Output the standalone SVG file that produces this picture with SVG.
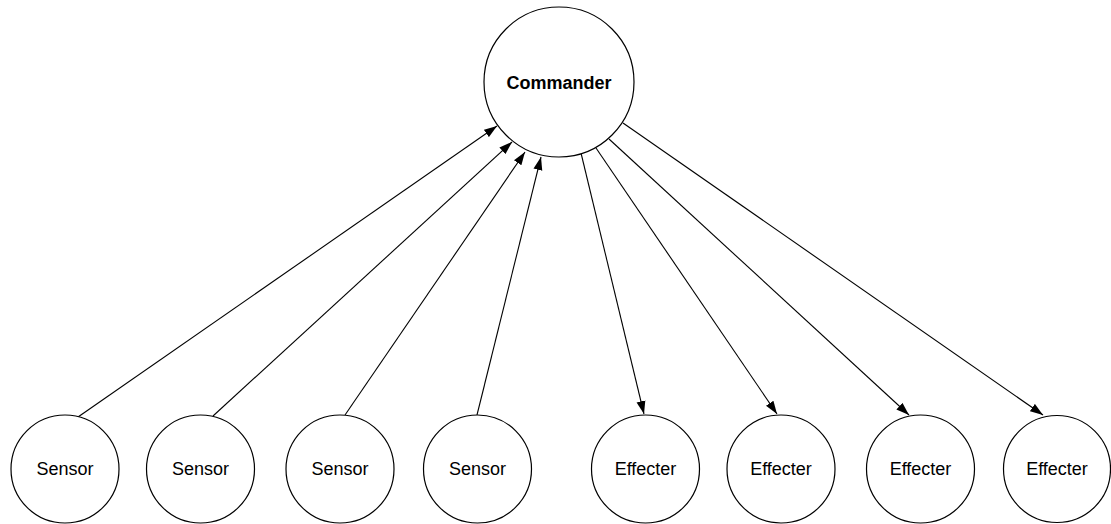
<svg xmlns="http://www.w3.org/2000/svg" width="1111" height="524" viewBox="0 0 1111 524">
<style>
.node circle{fill:#fff;stroke:#000;stroke-width:1.2}
.node text{font-family:"Liberation Sans",Arial,sans-serif;font-size:18px;text-anchor:middle;fill:#000}
.node text.b{font-weight:bold}
.edges line{stroke:#000;stroke-width:1.1;fill:none}
</style>
<defs>
<marker id="arr" markerUnits="userSpaceOnUse" markerWidth="14" markerHeight="10" refX="13" refY="5" orient="auto">
<path d="M0,0.5 L13,5 L0,9.5 z" fill="#000"/>
</marker>
</defs>
<rect width="1111" height="524" fill="#fff"/>
<g class="edges">
<line x1="78" y1="417" x2="497" y2="126" marker-end="url(#arr)"/>
<line x1="213" y1="416" x2="512" y2="142" marker-end="url(#arr)"/>
<line x1="345" y1="415" x2="525" y2="152" marker-end="url(#arr)"/>
<line x1="477" y1="415" x2="541" y2="157" marker-end="url(#arr)"/>
<line x1="581" y1="153" x2="644" y2="414" marker-end="url(#arr)"/>
<line x1="596" y1="148" x2="777" y2="414" marker-end="url(#arr)"/>
<line x1="609" y1="139" x2="909" y2="415" marker-end="url(#arr)"/>
<line x1="623" y1="123" x2="1043" y2="415" marker-end="url(#arr)"/>
</g>
<g id="commander" class="node"><circle cx="559" cy="82" r="75"/><text class="b" x="559" y="88.5">Commander</text></g>
<g id="sensor1" class="node"><circle cx="65" cy="469" r="54"/><text x="65" y="475">Sensor</text></g>
<g id="sensor2" class="node"><circle cx="200.5" cy="469" r="54"/><text x="200.5" y="475">Sensor</text></g>
<g id="sensor3" class="node"><circle cx="340" cy="469" r="54"/><text x="340" y="475">Sensor</text></g>
<g id="sensor4" class="node"><circle cx="477.5" cy="469" r="54"/><text x="477.5" y="475">Sensor</text></g>
<g id="effecter1" class="node"><circle cx="645.5" cy="469" r="54"/><text x="645.5" y="475">Effecter</text></g>
<g id="effecter2" class="node"><circle cx="781" cy="469" r="54"/><text x="781" y="475">Effecter</text></g>
<g id="effecter3" class="node"><circle cx="920.5" cy="469" r="54"/><text x="920.5" y="475">Effecter</text></g>
<g id="effecter4" class="node"><circle cx="1057" cy="469" r="53.5"/><text x="1057" y="475">Effecter</text></g>
</svg>
